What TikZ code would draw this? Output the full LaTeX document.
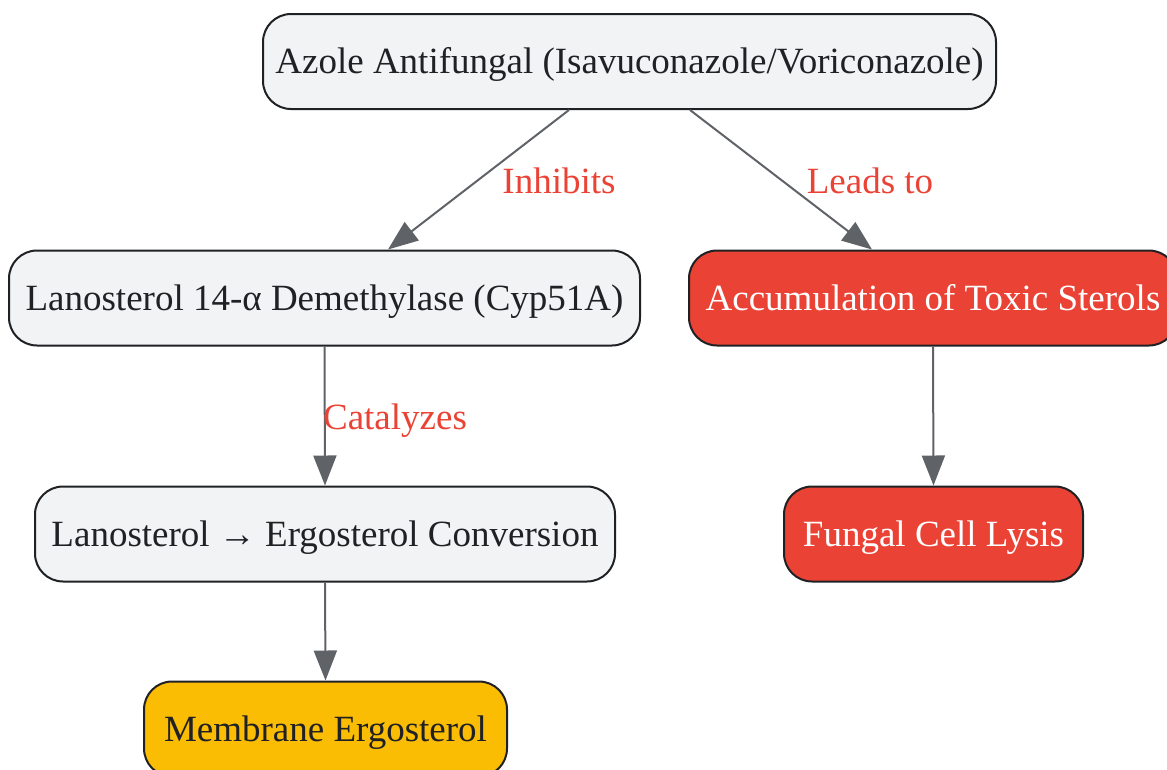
\documentclass[tikz,border=0pt]{standalone}
\usepackage{fontspec}
\setmainfont{Liberation Serif}
\usetikzlibrary{arrows.meta}
\definecolor{boxgray}{HTML}{F1F3F4}
\definecolor{boxred}{HTML}{EA4335}
\definecolor{boxyellow}{HTML}{FBBC04}
\definecolor{edgegray}{HTML}{5F6368}
\definecolor{txtdark}{HTML}{202124}
\definecolor{lblred}{HTML}{EA4335}
\tikzset{
  box/.style={draw=txtdark, line width=2pt, rounded corners=28pt, inner sep=0pt,
    minimum height=95pt, font=\fontsize{37}{40}\selectfont, text height=24.5pt, text depth=0pt, anchor=center},
  graybox/.style={box, fill=boxgray, text=txtdark},
  redbox/.style={box, fill=boxred, text=white},
  yellowbox/.style={box, fill=boxyellow, text=txtdark},
  conn/.style={draw=edgegray, line width=2pt, -{Triangle[length=30pt,width=23pt]}},
  lbl/.style={text=lblred, font=\fontsize{37}{40}\selectfont, text height=24.5pt, text depth=0pt, inner sep=0pt}
}
\begin{document}
\begin{tikzpicture}[x=1pt,y=-1pt]
\useasboundingbox (0,0) rectangle (1167,769);
\clip (0,0) rectangle (1167,769);
\node[graybox, minimum width=733pt] (azole) at (629.5,61.5) {Azole Antifungal (Isavuconazole/Voriconazole)};
\node[graybox, minimum width=631pt] (cyp) at (324.5,298) {Lanosterol 14-α Demethylase (Cyp51A)};
\node[redbox, minimum width=488pt] (accum) at (933,298) {Accumulation of Toxic Sterols};
\node[graybox, minimum width=580pt] (conv) at (325,534) {Lanosterol → Ergosterol Conversion};
\node[redbox, minimum width=299pt] (lysis) at (933.5,534) {Fungal Cell Lysis};
\node[yellowbox, minimum width=363pt] (memb) at (325.5,729) {Membrane Ergosterol};
\draw[conn] ([xshift=-60.5pt]azole.south) -- ([xshift=63.5pt]cyp.north);
\draw[conn] ([xshift=60.5pt]azole.south) -- ([xshift=-61pt]accum.north);
\draw[conn] (cyp.south) -- (conv.north);
\draw[conn] (accum.south) -- (lysis.north);
\draw[conn] (conv.south) -- (memb.north);
\node[lbl] (l1) at (559,181) {Inhibits};
\node[lbl] (l2) at (870,181) {Leads to};
\node[lbl] (l3) at (395,417) {Catalyzes};
\end{tikzpicture}
\end{document}
